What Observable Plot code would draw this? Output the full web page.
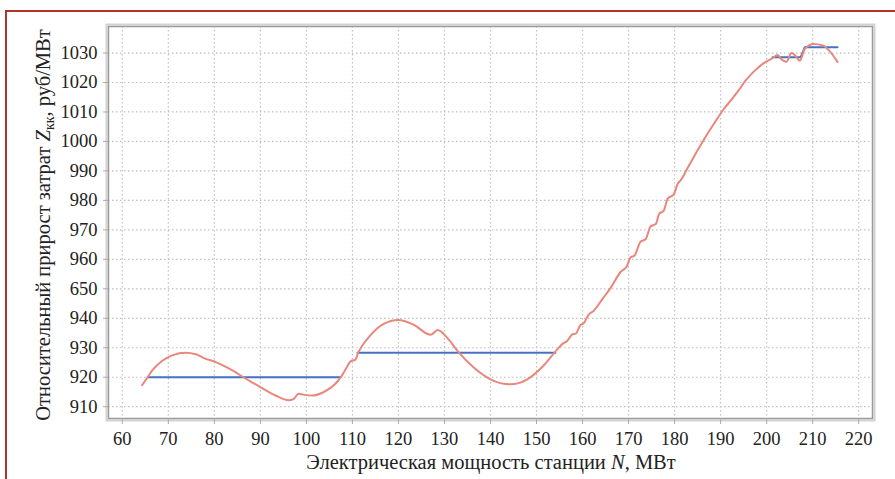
<!DOCTYPE html>
<html>
<head>
<meta charset="utf-8">
<script src="https://cdn.jsdelivr.net/npm/d3@7"></script>
<script src="https://cdn.jsdelivr.net/npm/@observablehq/plot@0.6"></script>
<style>
  html, body { margin: 0; padding: 0; background: #fff; overflow: hidden; }
  #wrap { position: relative; width: 895px; height: 479px; overflow: hidden; }
  #border { position: absolute; left: 5px; top: 10px; width: 1000px; height: 1000px;
            border: 2.5px solid #b3322a; box-sizing: border-box; }
  #chart { position: absolute; left: 0; top: 0; }
  #chart svg, #chart svg text, #chart svg tspan { font-family: "Liberation Serif", "Times New Roman", serif !important; }
  #chart svg text:not(.ttl) { font-size: 18.5px !important; }
  #chart svg text.ttl { font-size: 20.5px !important; }
  #chart svg tspan.sub { font-size: 14px !important; }
</style>
</head>
<body>
<div id="wrap"><div id="border"></div><div id="chart"></div></div>
<script>
// Red curve: N (MW) vs Z_kk (rub/MW)
const redN = [64.3, 65.5, 66.5, 68.7, 71.0, 73.7, 76.0, 78.0, 80.2, 82.4, 84.5, 86.3, 88.5, 90.4, 93.3, 96.1, 97.2, 98.3, 99.3, 101.3, 103.7, 106.3, 107.6, 108.8, 109.6, 110.6, 111.3, 113.9, 116.7, 120.0, 123.3, 127.0, 128.5, 130.7, 133.0, 136.3, 140.0, 144.3, 148.0, 151.5, 154.6, 155.7, 156.7, 157.8, 158.5, 159.6, 160.2, 161.3, 162.4, 164.3, 166.1, 168.3, 169.6, 170.4, 171.3, 172.6, 173.7, 174.8, 175.9, 176.7, 177.6, 178.5, 179.8, 180.7, 181.3, 183.0, 185.7, 188.5, 190.7, 192.2, 193.9, 195.4, 197.2, 199.3, 201.3, 202.4, 203.0, 204.3, 205.4, 206.3, 207.2, 208.3, 210.2, 212.2, 213.5, 215.4];
const redZ = [917.3, 920.0, 922.3, 925.6, 927.5, 928.3, 927.8, 926.3, 925.2, 923.6, 921.8, 920.0, 918.0, 916.3, 913.8, 912.2, 912.6, 914.4, 914.1, 913.8, 914.9, 917.8, 920.3, 923.5, 925.4, 925.9, 928.5, 934.2, 938.0, 939.4, 937.8, 934.4, 936.0, 933.2, 928.6, 923.4, 919.3, 917.6, 919.3, 923.9, 929.6, 931.4, 932.4, 934.6, 934.8, 937.8, 938.2, 941.2, 942.5, 946.5, 950.3, 955.8, 957.6, 960.6, 961.3, 966.0, 966.8, 971.2, 972.0, 975.6, 976.4, 980.6, 982.0, 985.7, 986.8, 991.5, 998.9, 1005.9, 1011.0, 1013.9, 1017.3, 1020.6, 1023.7, 1026.5, 1028.3, 1029.3, 1028.2, 1027.0, 1030.0, 1029.0, 1027.4, 1031.4, 1033.1, 1032.6, 1031.0, 1027.0];

// Blue (levelled) line segments
const blueN   = [65.5, 107.4, 111.1, 154.1, 201.3, 207.4, 208.3, 215.4];
const blueZ   = [920.0, 920.0, 928.3, 928.3, 1028.6, 1028.6, 1032.0, 1032.0];
const blueSeg = [1, 1, 2, 2, 3, 3, 3, 3];

// Ticks
const xTickValues = [60, 70, 80, 90, 100, 110, 120, 130, 140, 150, 160, 170, 180, 190, 200, 210, 220];
const yTickValues = [910, 920, 930, 940, 950, 960, 970, 980, 990, 1000, 1010, 1020, 1030];
const yTickLabels = ["910", "920", "930", "940", "650", "960", "970", "980", "990", "1000", "1010", "1020", "1030"];

const red = redN.map((n, i) => ({n, z: redZ[i]}));
const blue = blueN.map((n, i) => ({n, z: blueZ[i], s: blueSeg[i]}));

const font = "'Liberation Serif', 'Times New Roman', serif";

const svg = Plot.plot({
  width: 895,
  height: 479,
  marginLeft: 108,
  marginRight: 23,
  marginTop: 26,
  marginBottom: 61,
  x: {domain: [57, 223]},
  y: {domain: [906, 1039]},
  style: {fontFamily: font, fontSize: "18px", background: "transparent", color: "#222"},
  marks: [
    Plot.frame({stroke: "#d2d2d2", strokeWidth: 2, inset: -2}),
    Plot.gridX(xTickValues, {stroke: "#c0c0c0", strokeOpacity: 1, strokeWidth: 1.2, strokeDasharray: "1.5,2.5"}),
    Plot.gridY(yTickValues, {stroke: "#c0c0c0", strokeOpacity: 1, strokeWidth: 1.2, strokeDasharray: "1.5,2.5"}),
    Plot.frame({stroke: "#9a9a9a", strokeWidth: 1.5}),
    Plot.axisX(xTickValues, {tickSize: 6, tickPadding: 7, stroke: "#aaa", fill: "#222", label: null, fontSize: 18}),
    Plot.axisY(yTickValues, {tickSize: 5, tickPadding: 6, stroke: "#aaa", fill: "#222", label: null, fontSize: 18,
      tickFormat: (d) => yTickLabels[yTickValues.indexOf(d)]}),
    Plot.line(blue, {x: "n", y: "z", z: "s", stroke: "#4472c4", strokeWidth: 2}),
    Plot.line(red, {x: "n", y: "z", stroke: "#e8877c", strokeWidth: 2, curve: "monotone-x"})
  ]
});
svg.style.fontFamily = font;

const s = d3.select(svg);
// Y title
const yt = s.append("text")
  .attr("class", "ttl")
  .attr("transform", "translate(50,225) rotate(-90)")
  .attr("text-anchor", "middle")
  .attr("fill", "#222");
yt.append("tspan").text("Относительный прирост затрат ");
yt.append("tspan").style("font-style", "italic").text("Z");
yt.append("tspan").attr("class", "sub").attr("dy", 4).text("кк");
yt.append("tspan").attr("dy", -4).text(", руб/МВт");

// X title
const xt = s.append("text")
  .attr("class", "ttl")
  .attr("x", 491)
  .attr("y", 469)
  .attr("text-anchor", "middle")
  .attr("fill", "#222");
xt.append("tspan").text("Электрическая мощность станции ");
xt.append("tspan").style("font-style", "italic").text("N");
xt.append("tspan").text(", МВт");

document.getElementById("chart").appendChild(svg);
</script>
</body>
</html>
